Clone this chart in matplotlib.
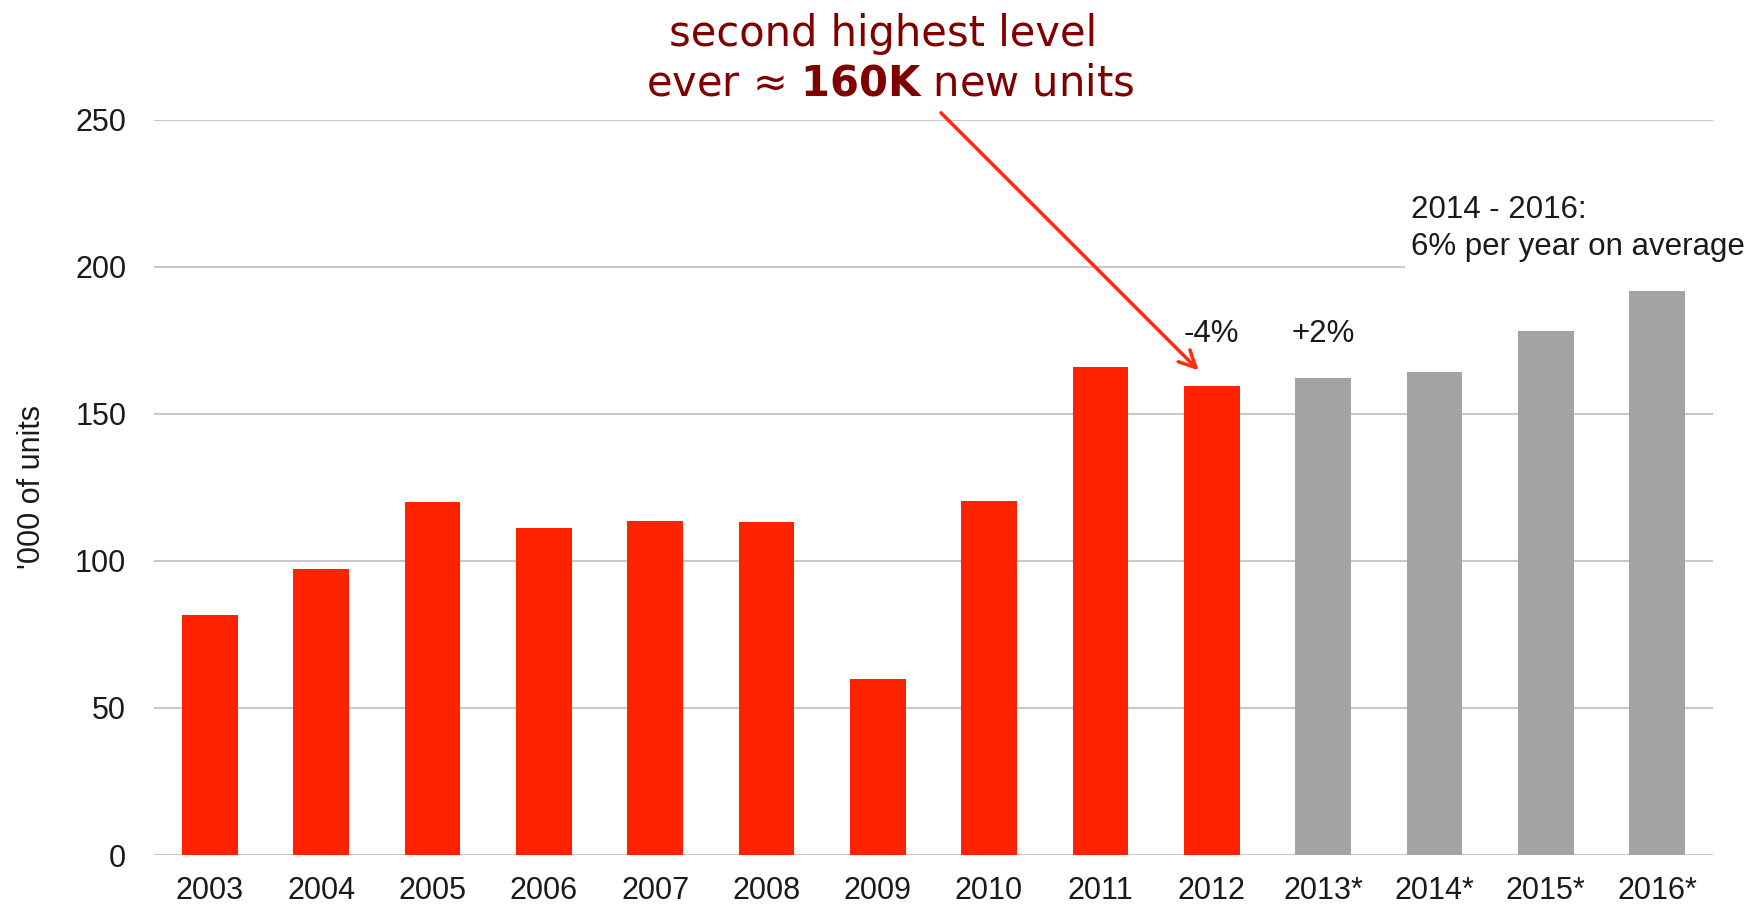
import numpy as np
import matplotlib
matplotlib.use('Agg')
import matplotlib.pyplot as plt

# new housing units per year, thousands (2013-2016 are forecasts)
years = ['2003', '2004', '2005', '2006', '2007', '2008', '2009', '2010',
         '2011', '2012', '2013*', '2014*', '2015*', '2016*']
units = [81.7, 97.3, 120.1, 111.3, 113.6, 113.2, 60.0, 120.4,
         166.0, 159.6, 162.2, 164.1, 178.2, 191.9]
is_forecast = [False] * 10 + [True] * 4

red = '#ff2200'
grey = '#a3a3a3'
dark_red = '#800000'
ink = '#1a1a1a'

plt.rcParams['font.family'] = ['Liberation Sans', 'DejaVu Sans']

fig = plt.figure(figsize=(17.53, 9.09), dpi=100)
ax = fig.add_axes([0.0879, 0.0594, 0.977 - 0.0879, 0.8684 - 0.0594])

xs = np.arange(len(years))
colors = [grey if f else red for f in is_forecast]
ax.bar(xs, units, width=0.5, color=colors, zorder=2)

ax.set_xlim(-0.5, len(years) - 0.5)
ax.set_ylim(0, 250)
ax.set_yticks([0, 50, 100, 150, 200, 250])
ax.set_xticks(xs)
ax.set_xticklabels(years)
ax.tick_params(axis='both', length=0, labelsize=22, colors=ink)
ax.tick_params(axis='y', pad=20)
ax.tick_params(axis='x', pad=15)
ax.yaxis.grid(True, color='#c8c8c8', linewidth=1.5, zorder=0)
for s in ax.spines.values():
    s.set_visible(False)
ax.set_ylabel("'000 of units", fontsize=22, color=ink, labelpad=20)

# year on year changes
ax.text(9, 177, '-4%', ha='center', va='center', fontsize=22.5, color=ink)
ax.text(10, 177, '+2%', ha='center', va='center', fontsize=22.5, color=ink)

ax.text(10.79, 213, '2014 - 2016:\n6% per year on average', ha='left', va='center',
        fontsize=22.5, color=ink, linespacing=1.3, clip_on=False,
        bbox=dict(facecolor='white', edgecolor='none', pad=4), zorder=3)

# headline with arrow pointing at 2012
fig.text(0.504, 0.963, 'second highest level', ha='center', va='center',
         fontsize=30, color=dark_red, family='DejaVu Sans')
fig.text(0.508, 0.908, r'ever ≈ $\mathbf{160K}$ new units', ha='center', va='center',
         fontsize=30, color=dark_red, family='DejaVu Sans')

ax.annotate('', xy=(9 - 0.1, units[9] + 4.5), xytext=(6.55, 253),
            arrowprops=dict(arrowstyle='->', color='#ff2a10', lw=2.5,
                            mutation_scale=30),
            annotation_clip=False)

fig.savefig('out.png', dpi=100)
